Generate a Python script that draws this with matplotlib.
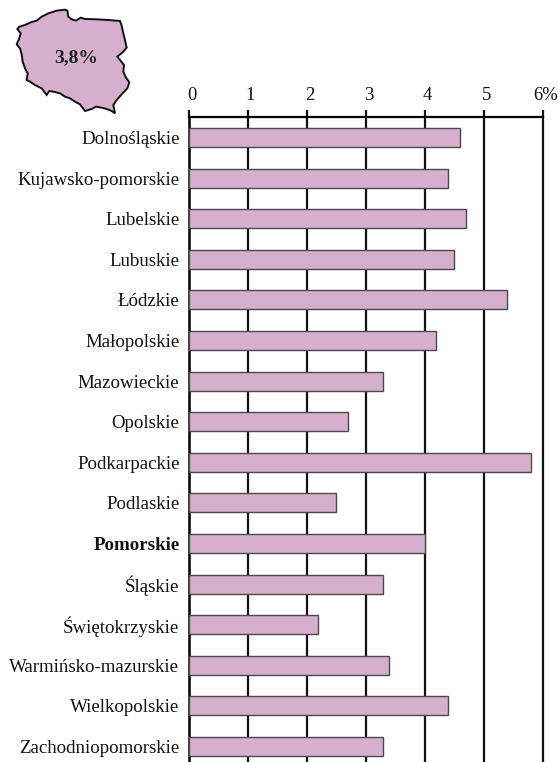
import numpy as np
import matplotlib
matplotlib.use("Agg")
import matplotlib.pyplot as plt
from matplotlib.transforms import ScaledTranslation

plt.rcParams['font.family'] = ['Liberation Serif', 'DejaVu Serif']

regions = ["Dolnośląskie", "Kujawsko-pomorskie", "Lubelskie", "Lubuskie", "Łódzkie",
           "Małopolskie", "Mazowieckie", "Opolskie", "Podkarpackie", "Podlaskie",
           "Pomorskie", "Śląskie", "Świętokrzyskie", "Warmińsko-mazurskie",
           "Wielkopolskie", "Zachodniopomorskie"]
values = [4.6, 4.4, 4.7, 4.5, 5.4, 4.2, 3.3, 2.7, 5.8, 2.5, 4.0, 3.3, 2.2, 3.4, 4.4, 3.3]
tick_vals = [0, 1, 2, 3, 4, 5, 6]
tick_labels = ["0", "1", "2", "3", "4", "5", "6%"]
national = "3,8%"

map_x = [28, 45, 62, 80, 95, 115, 140, 165, 172, 175, 185, 198, 212, 225, 260, 295, 330, 335, 340, 345,
         350, 338, 322, 330, 342, 340, 348, 358, 352, 335, 320, 310, 315, 305, 290, 275, 258, 245, 225, 210,
         195, 180, 165, 150, 130, 118, 110, 95, 75, 60, 50, 53, 45, 38, 35, 30, 20, 28, 32, 22, 28]
map_y = [65, 60, 52, 47, 35, 25, 17, 14, 17, 35, 43, 47, 38, 42, 43, 45, 48, 62, 85, 105,
         128, 142, 155, 165, 180, 200, 218, 232, 250, 268, 285, 300, 325, 318, 312, 308, 305, 312, 318, 298,
         290, 280, 275, 265, 260, 258, 270, 250, 240, 230, 225, 205, 190, 170, 148, 130, 118, 100, 85, 72, 65]

W, H = 558, 762
fig = plt.figure(figsize=(W / 100, H / 100), dpi=100)
left, right, top, bottom = 188.5, 542.5, 117, 762
ax = fig.add_axes([left / W, 1 - bottom / H, (right - left) / W, (bottom - top) / H])

# bars 40.6 px apart, first one centred at y=137.5 px
step = 40.6
y = np.arange(len(regions))
ax.set_ylim((bottom - 137.5) / step, (top - 137.5) / step)
ax.set_xlim(0, 6)

ax.barh(y, values, height=19 / step, color="#d5afcd", edgecolor="#4a4a4a", linewidth=1.0, zorder=3, clip_on=False)
ax.vlines(tick_vals[1:], *ax.get_ylim(), color="#111111", linewidth=1.6, zorder=1, clip_on=False)

ax.xaxis.tick_top()
ax.set_xticks(tick_vals)
ax.set_xticklabels(tick_labels, fontsize=13.4, color="#111111")
ax.tick_params(axis="x", length=5, width=1.6, color="#111111", pad=4.3)
# labels sit a little right of their ticks in the original
for lab in ax.get_xticklabels():
    lab.set_transform(lab.get_transform() + ScaledTranslation(3 / 100, 0, fig.dpi_scale_trans))
ax.set_yticks(y)
ax.set_yticklabels(regions, fontsize=13.6, color="#111111")
ax.tick_params(axis="y", length=0, pad=6.5)
ax.get_yticklabels()[regions.index("Pomorskie")].set_fontweight("bold")

for s in ["right", "bottom"]:
    ax.spines[s].set_visible(False)
ax.spines["top"].set_linewidth(1.6)
ax.spines["left"].set_linewidth(1.8)

# map inset, same 3x crop units
mp = fig.add_axes([10 / W, 1 - 120 / H, 125 / W, 115 / H])
mp.set_xlim(0, 375)
mp.set_ylim(345, 0)
mp.axis("off")
mp.fill(map_x, map_y, facecolor="#d5afcd", edgecolor="#111111", linewidth=1.4)
mp.text(198, 158, national, fontsize=14, fontweight="bold", ha="center", va="center", color="#222222")

fig.savefig("out.png", dpi=100)
